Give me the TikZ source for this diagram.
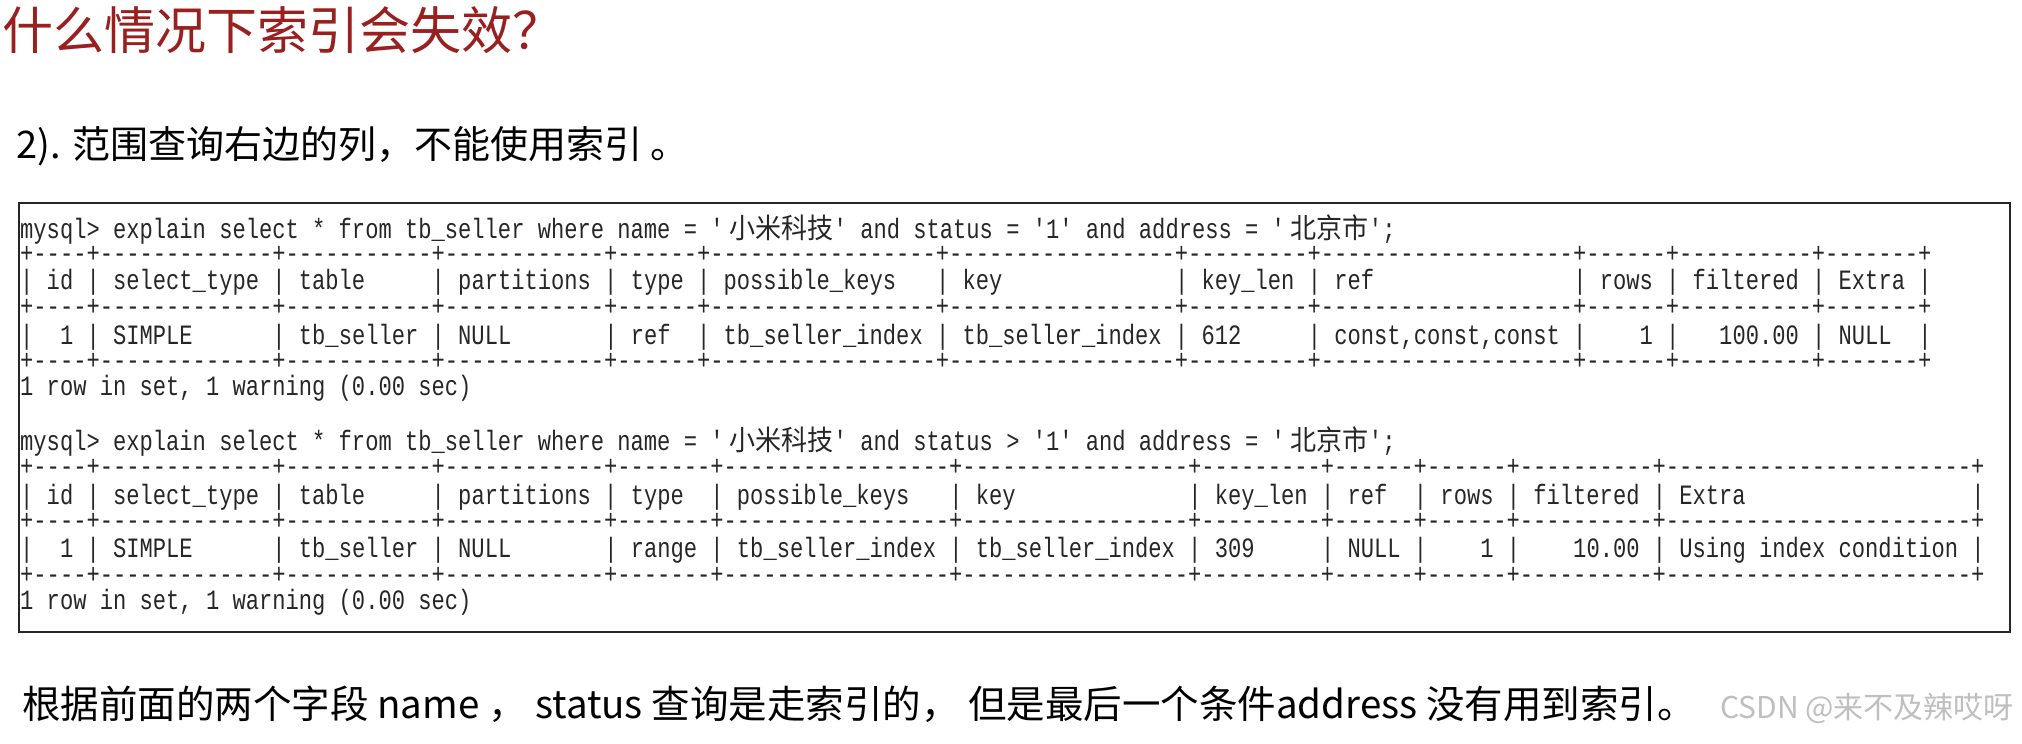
\documentclass[tikz,border=0pt]{standalone}
\usepackage{fontspec}
\setmainfont{Noto Sans CJK SC}
\newfontfamily\mono[Ligatures=TeXOff,FakeStretch=0.79]{Liberation Mono}
\newfontfamily\cjkm[FakeStretch=0.93]{Noto Sans CJK SC}
\newfontfamily\cjk{Noto Sans CJK SC}
\newcommand\ml{\begingroup\obeyspaces\catcode`\_=12 \mlx}
\newcommand\mlx[1]{#1\endgroup}
\definecolor{titlered}{HTML}{9A1F1F}
\begin{document}
\begin{tikzpicture}[x=1pt,y=-1pt,
  ln/.style={anchor=west,inner sep=0pt,font=\fontsize{28}{28}\selectfont\mono\frenchspacing,text=black!85}]
\useasboundingbox[fill=white] (0,0) rectangle (2022,744);
\node[anchor=west,inner sep=0pt,text=titlered,font=\fontsize{51}{51}\selectfont\cjk] (title) at (2,30) {什么情况下索引会失效？};
\node[anchor=west,inner sep=0pt,font=\fontsize{38}{38}\selectfont\cjk] (sub) at (16,146) {2). 范围查询右边的列，不能使用索引 。};
\draw[line width=2.2pt,black!85] (19,203) rectangle (2010,632);
\node[ln] (c1) at (20,230) {\ml{mysql> explain select * from tb_seller where name = '{\cjkm 小米科技}' and status = '1' and address = '{\cjkm 北京市}';}};
\node[ln] (s1) at (20,254) {\ml{+----+-------------+-----------+------------+------+-----------------+-----------------+---------+-------------------+------+----------+-------+}};
\node[ln] (h1) at (20,282) {\ml{| id | select_type | table     | partitions | type | possible_keys   | key             | key_len | ref               | rows | filtered | Extra |}};
\node[ln] (s2) at (20,307) {\ml{+----+-------------+-----------+------------+------+-----------------+-----------------+---------+-------------------+------+----------+-------+}};
\node[ln] (r1) at (20,337) {\ml{|  1 | SIMPLE      | tb_seller | NULL       | ref  | tb_seller_index | tb_seller_index | 612     | const,const,const |    1 |   100.00 | NULL  |}};
\node[ln] (s3) at (20,361) {\ml{+----+-------------+-----------+------------+------+-----------------+-----------------+---------+-------------------+------+----------+-------+}};
\node[ln] (w1) at (20,388) {\ml{1 row in set, 1 warning (0.00 sec)}};
\node[ln] (c2) at (20,442) {\ml{mysql> explain select * from tb_seller where name = '{\cjkm 小米科技}' and status > '1' and address = '{\cjkm 北京市}';}};
\node[ln] (t1) at (20,467) {\ml{+----+-------------+-----------+------------+-------+-----------------+-----------------+---------+------+------+----------+-----------------------+}};
\node[ln] (h2) at (20,497) {\ml{| id | select_type | table     | partitions | type  | possible_keys   | key             | key_len | ref  | rows | filtered | Extra                 |}};
\node[ln] (t2) at (20,521) {\ml{+----+-------------+-----------+------------+-------+-----------------+-----------------+---------+------+------+----------+-----------------------+}};
\node[ln] (r2) at (20,550) {\ml{|  1 | SIMPLE      | tb_seller | NULL       | range | tb_seller_index | tb_seller_index | 309     | NULL |    1 |    10.00 | Using index condition |}};
\node[ln] (t3) at (20,575) {\ml{+----+-------------+-----------+------------+-------+-----------------+-----------------+---------+------+------+----------+-----------------------+}};
\node[ln] (w2) at (20,602) {\ml{1 row in set, 1 warning (0.00 sec)}};
\node[anchor=west,inner sep=0pt,font=\fontsize{38.5}{38.5}\selectfont\cjk] (note) at (22,704) {根据前面的两个字段 name ， status 查询是走索引的， 但是最后一个条件address 没有用到索引。};
\node[anchor=east,inner sep=0pt,text=black!25,font=\fontsize{30}{30}\selectfont\cjk] (wm) at (2014,708) {CSDN @来不及辣哎呀};
\end{tikzpicture}
\end{document}
